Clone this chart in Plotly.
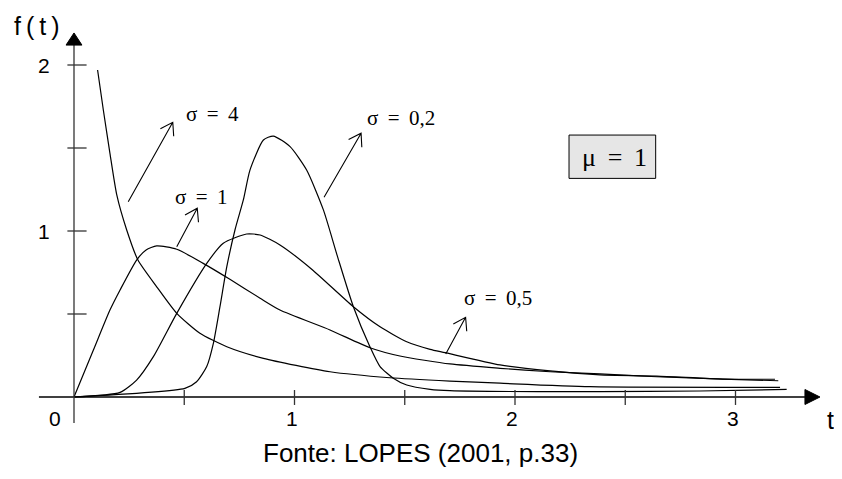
import math
import plotly.graph_objects as go

# ---------------- data ----------------
t_sigma4 = [0.107, 0.133, 0.163, 0.194, 0.239, 0.290, 0.375, 0.466, 0.571, 0.693,
            0.859, 1.161, 1.433, 1.705, 1.932, 2.340, 3.202]
f_sigma4 = [1.970, 1.729, 1.468, 1.217, 1.006, 0.825, 0.664, 0.504, 0.384, 0.303,
            0.233, 0.152, 0.116, 0.096, 0.083, 0.062, 0.058]

t_sigma1 = [0.0, 0.088, 0.163, 0.209, 0.284, 0.327, 0.375, 0.466, 0.586, 0.707,
            0.844, 0.934, 1.161, 1.342, 1.478, 1.705, 1.932, 2.159, 2.385, 2.643,
            2.943, 3.194]
f_sigma1 = [0.0, 0.283, 0.524, 0.645, 0.825, 0.886, 0.910, 0.890, 0.805, 0.709,
            0.595, 0.524, 0.404, 0.297, 0.247, 0.199, 0.173, 0.152, 0.139, 0.122,
            0.108, 0.098]

t_sigma05 = [0.0, 0.209, 0.284, 0.360, 0.466, 0.602, 0.677, 0.783, 0.844, 0.934,
             1.078, 1.267, 1.388, 1.509, 1.615, 1.683, 1.932, 2.159, 2.385, 2.643,
             2.943, 3.179]
f_sigma05 = [0.0, 0.028, 0.102, 0.243, 0.504, 0.805, 0.926, 0.982, 0.976, 0.916,
             0.770, 0.544, 0.423, 0.333, 0.287, 0.267, 0.193, 0.157, 0.133, 0.126,
             0.108, 0.107]

t_sigma02 = [0.0, 0.503, 0.556, 0.602, 0.632, 0.662, 0.693, 0.730, 0.768, 0.798,
             0.859, 0.904, 0.980, 1.055, 1.131, 1.193, 1.267, 1.342, 1.388, 1.448,
             1.509, 1.615, 1.705, 2.385, 2.839, 3.232]
f_sigma02 = [0.0, 0.052, 0.092, 0.183, 0.323, 0.544, 0.785, 1.006, 1.187, 1.367,
             1.548, 1.572, 1.508, 1.367, 1.127, 0.855, 0.544, 0.303, 0.183, 0.113,
             0.072, 0.046, 0.038, 0.032, 0.036, 0.046]

x_tick_vals = [0.5, 1.0, 1.5, 2.0, 2.5, 3.0]
x_label_vals = [1, 2, 3]
x_label_text = ["1", "2", "3"]
y_tick_vals = [0.5, 1.0, 1.5, 2.0]
y_label_vals = [1, 2]
y_label_text = ["1", "2"]

curve_labels = ["σ \u2009= \u20094", "σ \u2009= \u20091", "σ \u2009= \u20090,2", "σ \u2009= \u20090,5"]
box_label = "μ \u2009= \u20091"
source_text = "Fonte: LOPES (2001, p.33)"

# ---------------- layout geometry ----------------
# page body has an 8px margin, so the figure is placed 8px in from the window corner
W, H = 834, 471
X0_PX, Y0_PX = 66.0, 389.0      # pixel position of the origin inside the figure
SX, SY = 220.5, 166.0           # pixels per unit
x_range = [(0 - X0_PX) / SX, (W - X0_PX) / SX]
y_range = [(Y0_PX - H) / SY, Y0_PX / SY]

fig = go.Figure()

for tt, ff in [(t_sigma4, f_sigma4), (t_sigma1, f_sigma1),
               (t_sigma05, f_sigma05), (t_sigma02, f_sigma02)]:
    fig.add_trace(go.Scatter(x=tt, y=ff, mode="lines",
                             line=dict(color="black", width=1.2, shape="spline", smoothing=0.6),
                             hoverinfo="skip", showlegend=False))

shapes = []
# axes
shapes.append(dict(type="line", xref="x", yref="y", x0=-0.159, y0=0, x1=3.315, y1=0,
                   line=dict(color="black", width=1.6)))
shapes.append(dict(type="line", xref="x", yref="y", x0=0, y0=-0.157, x1=0, y1=2.12,
                   line=dict(color="#333333", width=1.3)))
# arrow heads of axes
shapes.append(dict(type="path", xref="x", yref="y",
                   path="M 3.315,0.045 L 3.383,0 L 3.315,-0.045 Z",
                   fillcolor="black", line=dict(color="black", width=1)))
shapes.append(dict(type="path", xref="x", yref="y",
                   path="M -0.036,2.12 L 0,2.193 L 0.036,2.12 Z",
                   fillcolor="black", line=dict(color="black", width=1)))
# ticks
for v in x_tick_vals:
    shapes.append(dict(type="line", xref="x", yref="y", x0=v, y0=0.042, x1=v, y1=-0.048,
                       line=dict(color="#333333", width=1.3)))
for v in y_tick_vals:
    shapes.append(dict(type="line", xref="x", yref="y", x0=-0.030, y0=v, x1=0.057, y1=v,
                       line=dict(color="#333333", width=1.3)))

# mu box
shapes.append(dict(type="rect", xref="x", yref="y", x0=2.245, y0=1.317, x1=2.638, y1=1.578,
                   fillcolor="#e6e6e6", line=dict(color="black", width=1), layer="below"))


def arrow(tail, tip, length=14.0, ang=33.0):
    dx = (tip[0] - tail[0]) * SX
    dy = -(tip[1] - tail[1]) * SY
    n = math.hypot(dx, dy)
    bx, by = -dx / n, -dy / n
    out = []
    for s in (1, -1):
        a = math.radians(ang * s)
        rx = bx * math.cos(a) - by * math.sin(a)
        ry = bx * math.sin(a) + by * math.cos(a)
        out.append((tip[0] + rx * length / SX, tip[1] - ry * length / SY))
    path = (f"M {tail[0]},{tail[1]} L {tip[0]},{tip[1]} "
            f"M {out[0][0]},{out[0][1]} L {tip[0]},{tip[1]} L {out[1][0]},{out[1][1]}")
    return dict(type="path", xref="x", yref="y", path=path,
                line=dict(color="black", width=1.1))


arrows = [((0.246, 1.176), (0.448, 1.655)),
          ((0.466, 0.905), (0.559, 1.137)),
          ((1.134, 1.203), (1.302, 1.589)),
          ((1.686, 0.259), (1.776, 0.480))]
for tl, tp in arrows:
    shapes.append(arrow(tl, tp))

serif = "Liberation Serif, Times New Roman, serif"
sans = "Liberation Sans, Arial, sans-serif"

annotations = []
label_pos = [(0.626, 1.705), (0.580, 1.205), (1.483, 1.681), (1.921, 0.596)]
for txt, (x, y) in zip(curve_labels, label_pos):
    annotations.append(dict(x=x, y=y, xref="x", yref="y", text=txt, showarrow=False,
                            font=dict(family=serif, size=21, color="black")))
annotations.append(dict(x=2.449, y=1.445, xref="x", yref="y", text=box_label, showarrow=False,
                        font=dict(family=serif, size=26, color="black")))

for v, s in zip(x_label_vals, x_label_text):
    annotations.append(dict(x=v, y=-0.131, xref="x", yref="y", text=s, showarrow=False,
                            xshift=-3, font=dict(family=sans, size=21, color="black")))
annotations.append(dict(x=-0.084, y=-0.131, xref="x", yref="y", text="0", showarrow=False,
                        font=dict(family=sans, size=21, color="black")))
for v, s in zip(y_label_vals, y_label_text):
    annotations.append(dict(x=-0.136, y=v, xref="x", yref="y", text=s, showarrow=False,
                            font=dict(family=sans, size=21, color="black")))
annotations.append(dict(x=-0.166, y=2.235, xref="x", yref="y", text="f\u2009(\u2009t\u2009)",
                        showarrow=False, font=dict(family=sans, size=25, color="black")))
annotations.append(dict(x=3.405, y=-0.139, xref="x", yref="y", text="t", showarrow=False,
                        xanchor="left", font=dict(family=sans, size=25, color="black")))
annotations.append(dict(x=1.573, y=-0.337, xref="x", yref="y", text=source_text, showarrow=False,
                        font=dict(family=sans, size=26, color="black")))

fig.update_layout(
    width=W, height=H, margin=dict(l=0, r=0, t=0, b=0),
    paper_bgcolor="white", plot_bgcolor="white",
    xaxis=dict(range=x_range, visible=False, fixedrange=True),
    yaxis=dict(range=y_range, visible=False, fixedrange=True),
    shapes=shapes, annotations=annotations, showlegend=False,
)

fig.write_html("out.html")
